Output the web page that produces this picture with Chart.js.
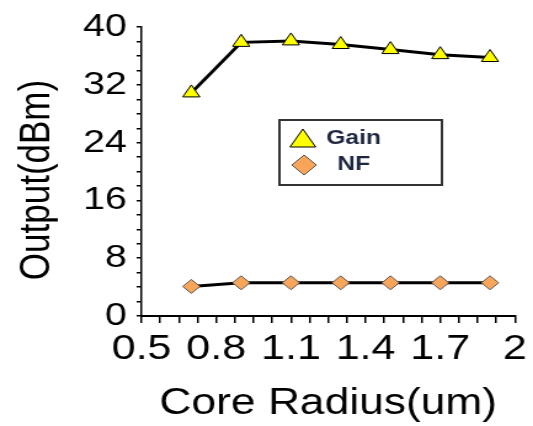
<!DOCTYPE html>
<html>
<head>
<meta charset="utf-8">
<script src="https://cdn.jsdelivr.net/npm/chart.js@4.4.1/dist/chart.umd.min.js"></script>
<style>
  html, body { margin: 0; padding: 0; background: #fff; overflow: hidden; }
  /* the reference picture is stretched sideways, so draw narrow and widen it */
  #wrap { width: 433px; height: 426px; transform: scaleX(1.231); transform-origin: 0 0; }
</style>
</head>
<body>
<div id="wrap"><canvas id="chart"></canvas></div>
<script>
// values
const coreRadius = [0.7, 0.9, 1.1, 1.3, 1.5, 1.7, 1.9];
const gainValues = [30.9, 37.9, 38.1, 37.6, 36.9, 36.2, 35.8];
const nfValues = [4.1, 4.6, 4.6, 4.6, 4.6, 4.6, 4.6];
const xTickLabels = ['0.5', '0.8', '1.1', '1.4', '1.7', '2'];
const yTickLabels = ['0', '8', '16', '24', '32', '40'];

const MINOR = 4; // minor ticks per labelled step
const xMin = Number(xTickLabels[0]);
const xMax = Number(xTickLabels[xTickLabels.length - 1]);
const yMin = Number(yTickLabels[0]);
const yMax = Number(yTickLabels[yTickLabels.length - 1]);

function minorTicks(min, max, labels) {
    const count = (labels.length - 1) * MINOR;
    const step = (max - min) / count;
    const ticks = [];
    for (let i = 0; i <= count; i++) ticks.push({ value: min + i * step });
    return ticks;
}

const font = '"Liberation Sans", Arial, sans-serif';

// Draw a marker shape by hand for the boxed legend
function drawMarker(ctx, style, x, y, r) {
    ctx.beginPath();
    if (style === 'triangle') {
        ctx.moveTo(x, y - r);
        ctx.lineTo(x + r * Math.sin(Math.PI / 3), y + r / 2);
        ctx.lineTo(x - r * Math.sin(Math.PI / 3), y + r / 2);
    } else {
        ctx.moveTo(x, y - r);
        ctx.lineTo(x + r, y);
        ctx.lineTo(x, y + r);
        ctx.lineTo(x - r, y);
    }
    ctx.closePath();
    ctx.fill();
    ctx.stroke();
}

// legend sits in a box inside the plot, like the original
const boxLegend = {
    id: 'boxLegend',
    afterDraw(chart) {
        const ctx = chart.ctx;
        ctx.save();
        ctx.strokeStyle = '#333';
        ctx.lineWidth = 2;
        ctx.strokeRect(227, 120, 132, 65);
        const rows = [
            { mx: 246, my: 141, r: 12, tx: 265, ty: 138 },
            { mx: 247, my: 165, r: 10, tx: 274, ty: 164 }
        ];
        chart.data.datasets.forEach((ds, i) => {
            const row = rows[i];
            ctx.fillStyle = ds.pointBackgroundColor;
            ctx.strokeStyle = ds.pointBorderColor;
            ctx.lineWidth = 1;
            drawMarker(ctx, ds.pointStyle, row.mx, row.my, row.r);
            ctx.fillStyle = '#1e2640';
            ctx.font = 'bold 20px ' + font;
            ctx.textBaseline = 'middle';
            ctx.textAlign = 'left';
            ctx.fillText(ds.label, row.tx, row.ty);
        });
        ctx.restore();
    }
};

// y title drawn by hand, it sits a bit below the middle of the axis
const yTitle = {
    id: 'yTitle',
    afterDraw(chart) {
        const ctx = chart.ctx;
        ctx.save();
        ctx.translate(30, 180);
        ctx.rotate(-Math.PI / 2);
        ctx.fillStyle = '#000';
        ctx.font = '35px ' + font;
        ctx.textAlign = 'center';
        ctx.textBaseline = 'middle';
        ctx.fillText('Output(dBm)', 0, 0);
        ctx.restore();
    }
};

const ctx = document.getElementById('chart').getContext('2d');
const chart = new Chart(ctx, {
    type: 'line',
    data: {
        datasets: [{
            label: 'Gain',
            data: coreRadius.map((x, i) => ({ x: x, y: gainValues[i] })),
            borderColor: '#000',
            borderWidth: 3,
            pointStyle: 'triangle',
            pointRadius: 8,
            pointBackgroundColor: '#ffff00',
            pointBorderColor: '#000',
            pointBorderWidth: 1,
            fill: false
        }, {
            label: 'NF',
            data: coreRadius.map((x, i) => ({ x: x, y: nfValues[i] })),
            borderColor: '#000',
            borderWidth: 3,
            pointStyle: 'rectRot',
            pointRadius: 7,
            pointBackgroundColor: '#f8a55a',
            pointBorderColor: '#555',
            pointBorderWidth: 1,
            fill: false
        }]
    },
    options: {
        responsive: true,
        maintainAspectRatio: false,
        animation: false,
        layout: { padding: { top: 24, right: 12, left: 0, bottom: 0 } },
        plugins: { legend: { display: false }, tooltip: { enabled: false } },
        scales: {
            x: {
                type: 'linear',
                min: xMin,
                max: xMax,
                afterBuildTicks: s => { s.ticks = minorTicks(xMin, xMax, xTickLabels); },
                afterFit: s => { s.height = 110; },
                ticks: {
                    autoSkip: false,
                    maxRotation: 0,
                    padding: 5,
                    color: '#000',
                    font: { family: font, size: 35 },
                    callback: (v, i) => (i % MINOR === 0 ? xTickLabels[i / MINOR] : '')
                },
                grid: { drawOnChartArea: false, drawTicks: true, tickLength: 7, color: '#000', lineWidth: 1.5 },
                border: { display: true, color: '#000', width: 2 },
                title: {
                    display: true,
                    text: 'Core Radius(um)',
                    color: '#000',
                    font: { family: font, size: 36 },
                    padding: { top: 0, bottom: 0 }
                }
            },
            y: {
                min: yMin,
                max: yMax,
                afterBuildTicks: s => { s.ticks = minorTicks(yMin, yMax, yTickLabels); },
                afterFit: s => { s.width = 115; },
                ticks: {
                    autoSkip: false,
                    padding: 8,
                    color: '#000',
                    font: { family: font, size: 32 },
                    callback: (v, i) => (i % MINOR === 0 ? yTickLabels[i / MINOR] : '')
                },
                grid: { drawOnChartArea: false, drawTicks: true, tickLength: 4, color: '#000', lineWidth: 1.5 },
                border: { display: true, color: '#000', width: 1.5 },
                title: { display: false }
            }
        }
    },
    plugins: [boxLegend, yTitle]
});
</script>
</body>
</html>
